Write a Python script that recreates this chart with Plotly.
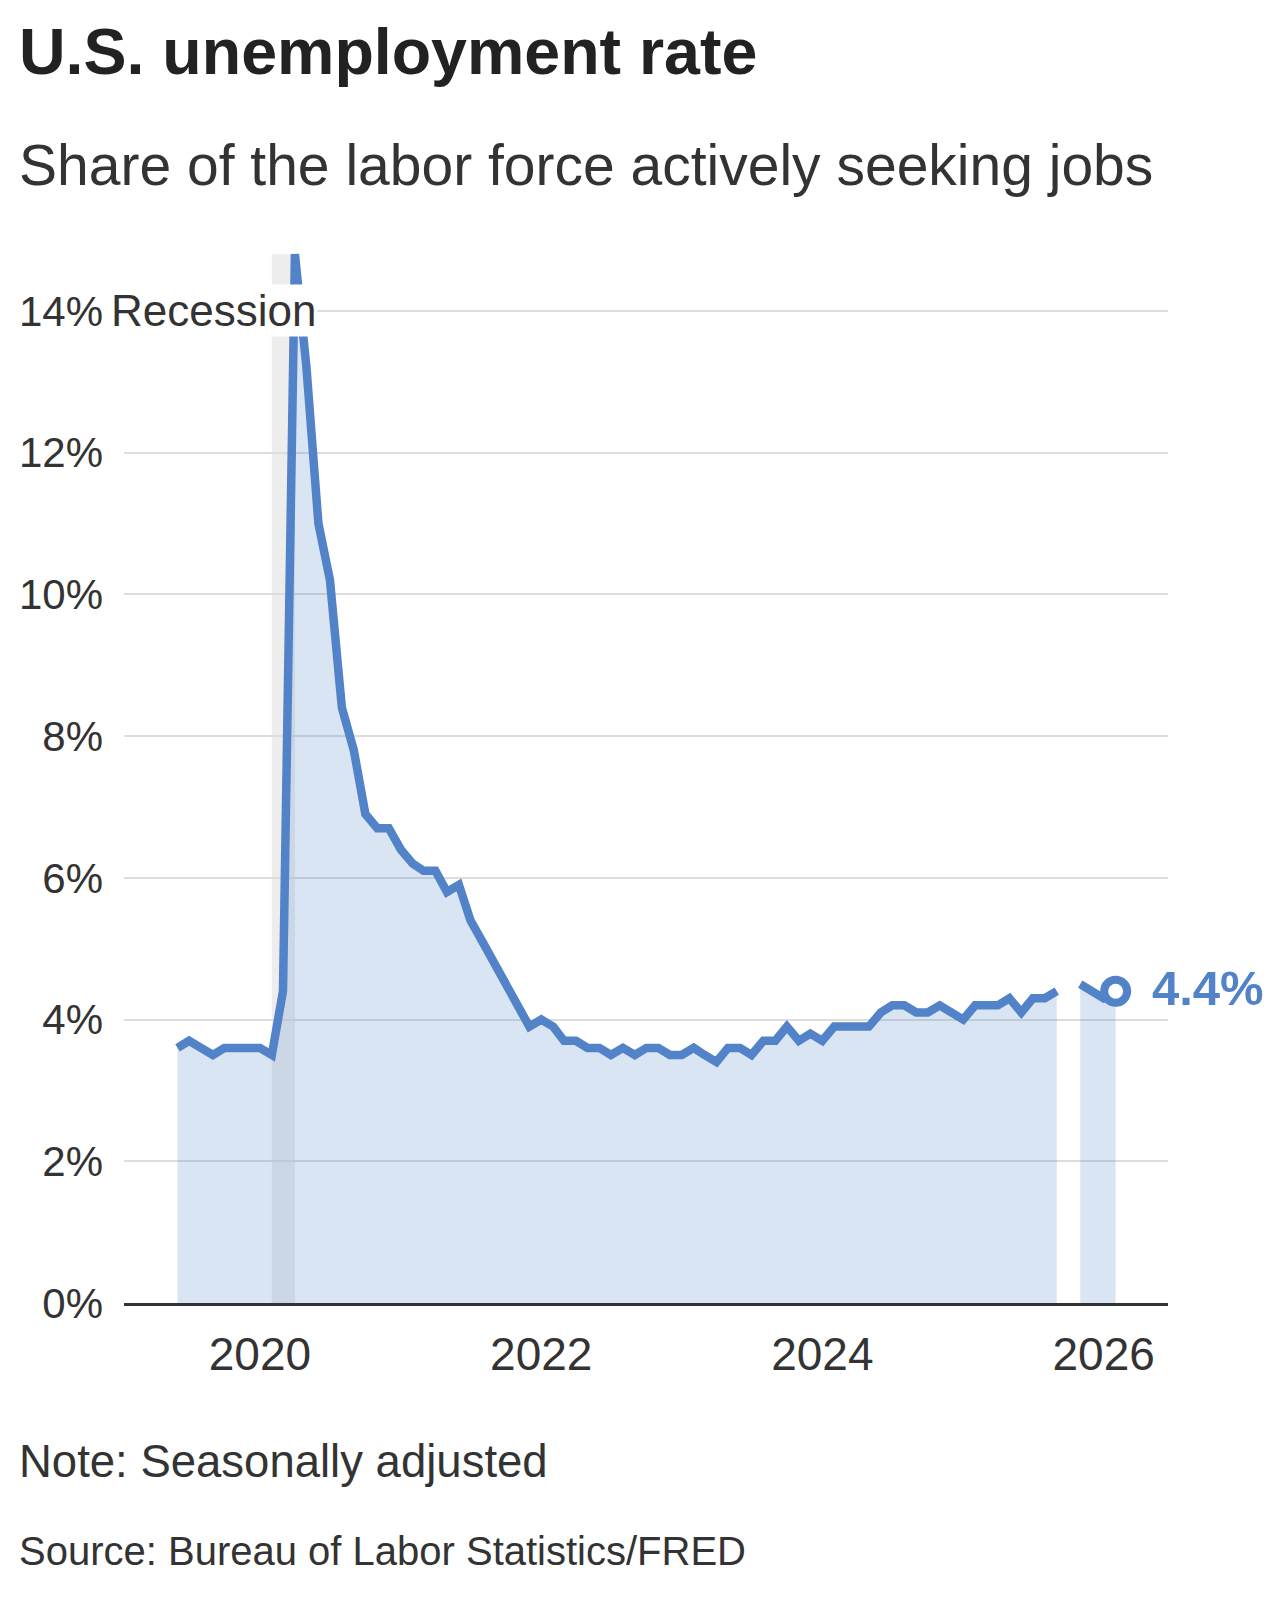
import plotly.graph_objects as go
import pandas as pd

# ---------------- data ----------------
months = pd.date_range("2019-06-01", "2026-02-01", freq="MS")
rate = [
    # 2019 Jun-Dec
    3.6, 3.7, 3.6, 3.5, 3.6, 3.6, 3.6,
    # 2020
    3.6, 3.5, 4.4, 14.8, 13.2, 11.0, 10.2, 8.4, 7.8, 6.9, 6.7, 6.7,
    # 2021
    6.4, 6.2, 6.1, 6.1, 5.8, 5.9, 5.4, 5.1, 4.8, 4.5, 4.2, 3.9,
    # 2022
    4.0, 3.9, 3.7, 3.7, 3.6, 3.6, 3.5, 3.6, 3.5, 3.6, 3.6, 3.5,
    # 2023
    3.5, 3.6, 3.5, 3.4, 3.6, 3.6, 3.5, 3.7, 3.7, 3.9, 3.7, 3.8,
    # 2024
    3.7, 3.9, 3.9, 3.9, 3.9, 4.1, 4.2, 4.2, 4.1, 4.1, 4.2, 4.1,
    # 2025 (October missing)
    4.0, 4.2, 4.2, 4.2, 4.3, 4.1, 4.3, 4.3, 4.4, None, 4.5, 4.4,
    # 2026
    4.3, 4.4,
]
recession_start = "2020-02-01"
recession_end = "2020-04-01"
year_ticks = ["2020-01-01", "2022-01-01", "2024-01-01", "2026-01-01"]
year_labels = ["2020", "2022", "2024", "2026"]
y_ticks = [0, 2, 4, 6, 8, 10, 12, 14]
y_labels = ["0%", "2%", "4%", "6%", "8%", "10%", "12%", "14%"]

title = "U.S. unemployment rate"
subtitle = "Share of the labor force actively seeking jobs"
note = "Note: Seasonally adjusted"
source = "Source: Bureau of Labor Statistics/FRED"

# ---------------- style ----------------
FONT = "Liberation Sans, Arial, Helvetica, sans-serif"
BLUE = "#5282c7"
FILL = "rgba(82,130,199,0.21)"
TXT = "#333333"

W, H = 1285, 1600
ML, MR, MT, MB = 124, 117, 240, 297
PW, PH = W - ML - MR, H - MT - MB


def px_x(p):
    return (p - ML) / PW


def px_y(p):
    return (H - MB - p) / PH


# split into contiguous segments
segments = []
cur_x, cur_y = [], []
for d, v in zip(months, rate):
    if v is None:
        if cur_x:
            segments.append((cur_x, cur_y))
        cur_x, cur_y = [], []
    else:
        cur_x.append(d)
        cur_y.append(v)
if cur_x:
    segments.append((cur_x, cur_y))

fig = go.Figure()
for sx, sy in segments:
    fig.add_trace(go.Scatter(
        x=sx, y=sy, mode="lines",
        line=dict(color=BLUE, width=8.5),
        fill="tozeroy", fillcolor=FILL,
        hoverinfo="skip",
    ))

last_x = [d for d, v in zip(months, rate) if v is not None][-1]
last_y = [v for v in rate if v is not None][-1]
fig.add_trace(go.Scatter(
    x=[last_x], y=[last_y], mode="markers",
    marker=dict(size=23, color="white", line=dict(color=BLUE, width=8)),
    hoverinfo="skip",
))

fig.add_shape(
    type="rect", xref="x", yref="y",
    x0=recession_start, x1=recession_end, y0=0, y1=max(v for v in rate if v is not None),
    fillcolor="#ededed", line=dict(width=0), layer="below",
)

annotations = [
    dict(text=f"<b>{title}</b>", x=px_x(17), y=px_y(52.5), xref="paper", yref="paper",
         xanchor="left", yanchor="middle", showarrow=False,
         font=dict(family=FONT, size=64.5, color="#222222")),
    dict(text=subtitle, x=px_x(17), y=px_y(165), xref="paper", yref="paper",
         xanchor="left", yanchor="middle", showarrow=False,
         font=dict(family=FONT, size=57, color=TXT)),
    dict(text=note, x=px_x(17), y=px_y(1461), xref="paper", yref="paper",
         xanchor="left", yanchor="middle", showarrow=False,
         font=dict(family=FONT, size=45.5, color=TXT)),
    dict(text=source, x=px_x(17), y=px_y(1551), xref="paper", yref="paper",
         xanchor="left", yanchor="middle", showarrow=False,
         font=dict(family=FONT, size=40, color=TXT)),
    dict(text="Recession", x=px_x(109), y=14, xref="paper", yref="y",
         xanchor="left", yanchor="middle", showarrow=False,
         bgcolor="white", borderpad=1,
         font=dict(family=FONT, size=44, color=TXT)),
    dict(text=f"<b>{last_y}%</b>", x=last_x, y=last_y, xref="x", yref="y",
         xanchor="left", yanchor="middle", xshift=34, yshift=3, showarrow=False,
         font=dict(family=FONT, size=49, color=BLUE)),
]

fig.update_layout(
    width=W, height=H,
    margin=dict(l=ML, r=MR, t=MT, b=MB, pad=0),
    paper_bgcolor="white", plot_bgcolor="white",
    showlegend=False,
    annotations=annotations,
    xaxis=dict(
        type="date", range=["2019-01-13", "2026-06-17"],
        tickvals=year_ticks, ticktext=year_labels,
        showgrid=False, zeroline=False,
        showline=True, linecolor="#333333", linewidth=3,
        ticks="", ticklabelstandoff=9,
        tickfont=dict(family=FONT, size=46, color=TXT),
        fixedrange=True,
    ),
    yaxis=dict(
        range=[0, 15], tickvals=y_ticks, ticktext=y_labels,
        showgrid=True, gridcolor="#dddddd", gridwidth=2,
        zeroline=False, showline=False, ticks="",
        ticklabelstandoff=20,
        tickfont=dict(family=FONT, size=42, color=TXT),
        fixedrange=True,
    ),
)

fig.write_html(
    "out.html",
    config={"displayModeBar": False},
    post_script="document.body.style.margin='0';document.body.style.padding='0';",
)
